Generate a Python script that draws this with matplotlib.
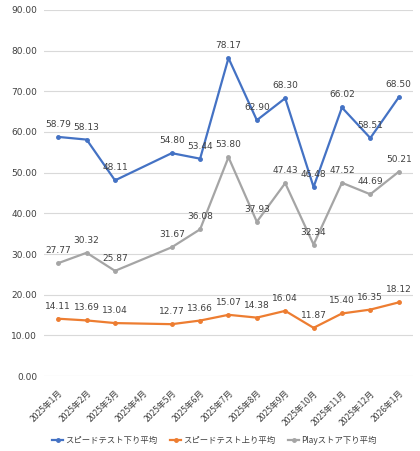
import numpy as np
import matplotlib
matplotlib.use("Agg")
from matplotlib import pyplot as plt

plt.rcParams['font.family'] = ['DejaVu Sans', 'Noto Sans CJK JP']

months = ["2025年1月", "2025年2月", "2025年3月", "2025年4月", "2025年5月", "2025年6月",
          "2025年7月", "2025年8月", "2025年9月", "2025年10月", "2025年11月", "2025年12月",
          "2026年1月"]
speed_down = [58.79, 58.13, 48.11, np.nan, 54.80, 53.44, 78.17, 62.90, 68.30, 46.48, 66.02, 58.51, 68.50]
speed_up = [14.11, 13.69, 13.04, np.nan, 12.77, 13.66, 15.07, 14.38, 16.04, 11.87, 15.40, 16.35, 18.12]
play_down = [27.77, 30.32, 25.87, np.nan, 31.67, 36.08, 53.80, 37.93, 47.43, 32.34, 47.52, 44.69, 50.21]
names = ["スピードテスト下り平均", "スピードテスト上り平均", "Playストア下り平均"]
colors = ["#4472C4", "#ED7D31", "#A5A5A5"]

fig = plt.figure(figsize=(4.2, 4.51), dpi=100)
ax = fig.add_axes([0.105, 0.166, 0.878, 0.812])

x = np.arange(len(months))
for vals, name, c in zip([speed_down, speed_up, play_down], names, colors):
    v = np.array(vals, dtype=float)
    ok = ~np.isnan(v)
    ax.plot(x[ok], v[ok], color=c, lw=1.6, marker='o', markersize=2.5, label=name)
    for xi, yi in zip(x[ok], v[ok]):
        ax.annotate("%.2f" % yi, (xi, yi), xytext=(0, 9), textcoords='offset points',
                    ha='center', va='center', fontsize=6.5, color='#404040')

ax.set_xlim(-0.5, len(months) - 0.5)
ax.set_ylim(0, 90)
ax.set_yticks(np.arange(0, 91, 10))
ax.set_yticklabels(["%.2f" % t for t in np.arange(0, 91, 10)], fontsize=6.5, color='#404040')
ax.set_xticks(x)
ax.set_xticklabels(months, rotation=45, ha='right', rotation_mode='anchor',
                   fontsize=6.2, color='#404040', family=['Noto Sans CJK JP', 'DejaVu Sans'])
ax.tick_params(axis='y', length=0, pad=5)
ax.tick_params(axis='x', length=0, pad=9)
ax.yaxis.grid(True, color='#D9D9D9', lw=0.8)
ax.set_axisbelow(True)
for s in ax.spines.values():
    s.set_visible(False)

fig.legend(loc='center', bbox_to_anchor=(0.51, 0.024), ncol=3, frameon=False,
           prop={'family': ['Noto Sans CJK JP', 'DejaVu Sans'], 'size': 6},
           handlelength=1.3, columnspacing=1.6, handletextpad=0.2, labelcolor='#404040')

fig.savefig("out.png", dpi=100)
